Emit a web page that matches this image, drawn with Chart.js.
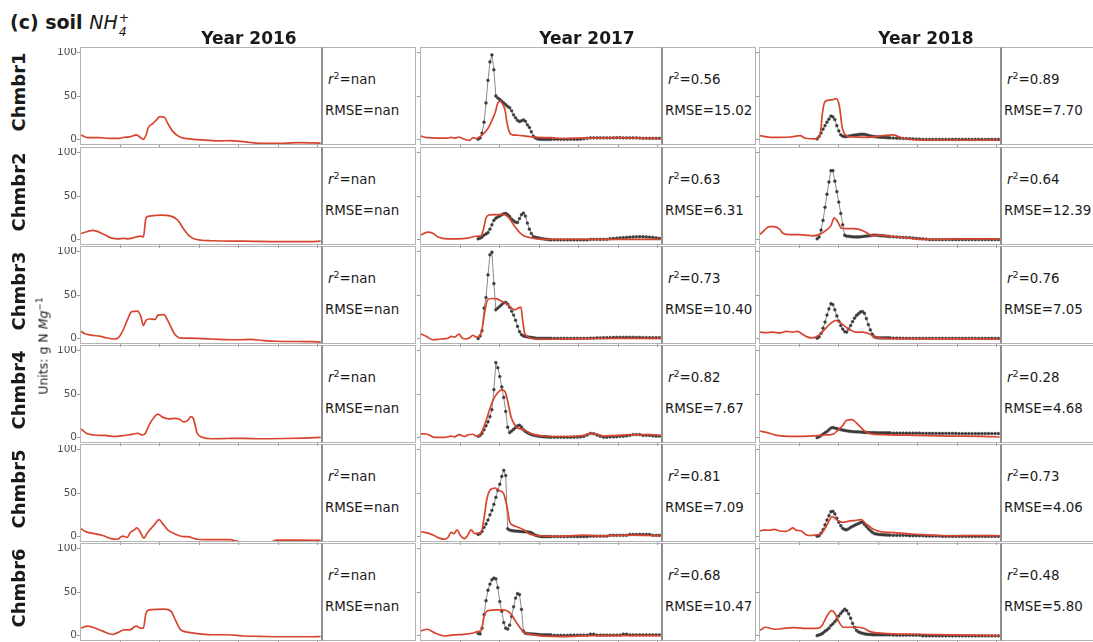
<!DOCTYPE html>
<html>
<head>
<meta charset="utf-8">
<script src="https://cdn.jsdelivr.net/npm/chart.js@4.4.0/dist/chart.umd.min.js"></script>
<style>
body{margin:0;background:#fff;width:1093px;height:642px;overflow:hidden;position:relative;font-family:"DejaVu Sans",sans-serif;color:#1a1a1a}
.abs{position:absolute;white-space:nowrap}
.rot{position:absolute;white-space:nowrap;transform:translate(-50%,-50%) rotate(-90deg)}
.frame{position:absolute;box-sizing:border-box;border:1px solid #b4b4b4;pointer-events:none}
.txt{position:absolute;box-sizing:border-box;border:1px solid #b4b4b4;border-left:2px solid #8e8e8e;background:#fff}
.stat{position:absolute;font-size:13.4px;line-height:16px;white-space:nowrap}
.stat sup{font-size:9.5px;vertical-align:5px;line-height:0}
.ss{position:relative;display:inline-block;width:12px;height:0;font-size:12.5px;font-style:italic;font-weight:normal}
</style>
</head>
<body>
<script>
// panel texts
const years = ["Year 2016", "Year 2017", "Year 2018"];
const chambers = ["Chmbr1", "Chmbr2", "Chmbr3", "Chmbr4", "Chmbr5", "Chmbr6"];
const r2Labels = [
  ["nan", "nan", "nan", "nan", "nan", "nan"],
  ["0.56", "0.63", "0.73", "0.82", "0.81", "0.68"],
  ["0.89", "0.64", "0.76", "0.28", "0.73", "0.48"]
];
const rmseLabels = [
  ["nan", "nan", "nan", "nan", "nan", "nan"],
  ["15.02", "6.31", "10.40", "7.67", "7.09", "10.47"],
  ["7.70", "12.39", "7.05", "4.68", "4.06", "5.80"]
];
const yTicks = [0, 50, 100];
const xTicks = [60, 120, 180, 240, 300, 360];

// simulated NH4+ (day of year, value)
const sim2016 = [
  [[0,5.4],[10,2.3],[28,2.3],[43,1.5],[58,1.5],[66,2.7],[76,3.4],[84,5.4],[89,3.4],[95,0.4],[100,7.3],[102,13],[110,18.8],[115,22.6],[120,26.4],[127,25.7],[132,18.8],[140,9.2],[150,3.4],[171,0.4],[190,-0.5],[211,-1.5],[226,-1.1],[250,-2.5],[272,-4.2],[308,-4.2],[333,-3.4],[365,-4]],
  [[0,7],[18,10.5],[36,5.5],[46,2],[56,0.8],[66,1.5],[71,0.8],[84,3],[91,4],[95,3],[99,25],[104,27],[122,28],[137,27],[147,22.5],[157,11.5],[165,4.3],[172,1],[198,-1.3],[248,-1.7],[299,-2.2],[349,-2.2],[365,-1.8]],
  [[0,8.5],[5,6],[15,4],[30,2.6],[38,1],[50,-0.4],[56,0.5],[63,8],[71,22],[77,31],[86,31.5],[91,25.7],[95,15],[99,21],[104,22.5],[113,22],[117,27],[126,27.5],[132,21],[142,6],[152,0.5],[162,0.5],[198,-0.4],[238,-1.3],[258,-0.8],[278,-2.2],[298,-3],[349,-3.5],[365,-4]],
  [[0,10],[8,5],[20,3],[36,2.5],[51,1.3],[61,2],[71,3],[79,4],[86,5],[94,3],[98,5],[104,15],[112,24],[117,27],[124,23.5],[134,21.5],[142,22],[150,21],[157,18],[163,20],[167,24],[171,22],[177,5],[185,0.4],[198,-1.3],[223,-1],[248,-0.8],[273,-1.3],[309,-1],[339,-0.5],[365,0.3]],
  [[0,9],[8,5.5],[20,3.5],[33,1.3],[46,-2.2],[56,-3],[61,0],[64,0.5],[70,-1],[75,4.8],[81,7.8],[85,10],[89,7],[94,-0.4],[96,-1.7],[101,4.3],[111,13],[119,19.6],[124,15.2],[132,7.8],[142,3.5],[157,0],[162,0],[177,-3],[198,-3.5],[228,-3.5],[233,-4.5],[245,-6],[290,-6],[298,-4],[330,-4],[365,-4.2]],
  [[0,8.7],[10,11],[20,9],[33,5.2],[48,1.3],[56,3.5],[66,6.5],[74,6.5],[84,11],[91,8.5],[95,8.5],[99,26],[104,29.6],[127,30.4],[137,28],[144,17.4],[152,6.5],[162,4],[177,2.2],[198,1],[223,1],[248,-0.4],[273,-0.8],[299,-1.3],[349,-1.3],[365,-1]]
];
const sim2017 = [
  [[0,4],[10,2.2],[26,1.7],[41,1.7],[46,2.6],[51,1.7],[58,3],[63,1.3],[69,-0.4],[74,-0.8],[79,2.2],[84,1.3],[89,3],[94,6],[98,9],[103,14],[108,22],[113,31],[117,42],[121,44],[124,41],[128,34],[131,19],[135,8],[139,5.5],[147,5],[162,3.7],[177,2.6],[198,2.2],[213,1.3],[238,1.7],[273,1.7],[299,2.2],[324,1.7],[365,1.3]],
  [[0,5.4],[10,8.7],[18,7.4],[26,3],[41,0.9],[56,0.9],[71,1.7],[84,3.9],[91,4.3],[95,11.7],[99,24.8],[104,28.3],[112,28.7],[127,28.7],[134,24.8],[142,16],[150,8.3],[157,4.3],[167,2.2],[177,0.9],[198,0.4],[365,0.4]],
  [[0,5.2],[8,2.6],[18,-1.3],[31,-0.4],[41,0.4],[46,2.6],[51,1.7],[58,5.2],[63,0.4],[69,-0.4],[74,1],[79,3.9],[84,1.7],[89,3],[93,11],[97,30],[101,44],[108,46],[116,45.5],[122,43],[130,40],[138,35],[143,33],[148,35],[152,36],[155,20],[158,6],[162,2.6],[167,0.4],[177,-0.4],[198,-0.4],[248,0],[299,0.4],[365,0.4]],
  [[0,4.3],[10,3.9],[20,0.4],[36,0.4],[46,1.7],[51,0.8],[58,3.5],[66,1.3],[71,3],[79,3.9],[84,1.7],[89,3],[94,9],[101,24],[109,41.7],[117,51.7],[123,54.8],[128,52.6],[132,41.7],[137,24.3],[142,15.6],[147,11.3],[157,9],[167,4.8],[177,2.6],[198,1.3],[223,1.3],[248,2.6],[258,4.8],[268,3.9],[278,1.7],[299,2.6],[324,3.5],[349,3.5],[365,2.6]],
  [[0,5.6],[10,4.3],[20,1.3],[28,-1.7],[36,-3],[41,-1],[46,4.8],[50,3.5],[55,7.8],[60,1.3],[66,-2.2],[71,1.3],[76,7.8],[82,3.5],[86,4],[91,4],[96,21],[100,42],[106,54],[113,55.5],[119,53],[126,49],[131,34],[135,17],[140,13],[147,11],[157,7.5],[165,3],[175,1.3],[198,0.4],[223,0.8],[248,1.7],[273,0.8],[299,1.3],[324,1.7],[349,1.3],[365,0.8]],
  [[0,5.5],[9,7.3],[22,2.7],[35,-0.4],[50,0.8],[65,1.5],[78,2.7],[86,4.6],[92,6.5],[96,22],[102,28.7],[115,29.5],[126,29.5],[136,25.7],[146,14.2],[156,4.6],[172,0.8],[212,-1.1],[263,0],[314,0],[365,0]]
];
const sim2018 = [
  [[0,4.6],[8,3.5],[15,2.7],[30,2.7],[46,3],[61,4.6],[69,1.6],[84,0.8],[89,3],[92,7.3],[95,30],[99,43.7],[109,45.6],[116,47],[121,38],[125,15],[130,5.4],[137,3.4],[163,2.7],[188,4.6],[203,5.4],[218,1.6],[249,-0.4],[300,-0.4],[365,-0.4]],
  [[0,6],[7,11],[14,15],[22,14.8],[30,11.7],[35,7.4],[45,5.7],[60,5.7],[70,5.2],[80,4.3],[90,5.7],[100,10.4],[108,16],[113,25],[118,21],[124,13],[131,12.6],[141,12.6],[151,11.7],[162,8.3],[169,5.2],[182,4.8],[197,3.9],[222,2.2],[248,0.4],[273,0.4],[299,0.9],[349,0.9],[365,0.4]],
  [[0,7.4],[9,7],[19,7.4],[30,6.5],[40,8.3],[50,7.4],[57,8.3],[63,6],[70,2.6],[78,0.9],[85,1.7],[93,6],[101,12.6],[108,17.8],[116,21],[126,16],[136,10.4],[146,7.4],[156,7.4],[167,5.2],[174,1.7],[187,0.4],[207,0],[365,-0.4]],
  [[0,7.6],[8,6.4],[26,2.6],[46,1.5],[66,1.5],[87,2.3],[100,3],[112,4.2],[118,8],[125,13],[132,19.9],[140,20.7],[148,16],[158,8.4],[168,4.6],[188,3.4],[239,2.6],[290,1.8],[340,1.5],[365,0.7]],
  [[0,6.5],[7,7.8],[14,7.3],[22,8.3],[30,6.5],[40,6],[45,7.8],[50,10],[55,7.5],[63,6.5],[70,2.2],[78,1.3],[85,2],[93,3.5],[101,12],[110,23],[118,18.7],[126,16.5],[136,17.8],[146,18.7],[154,19.6],[162,14.3],[172,8.7],[184,5.6],[197,4.8],[223,3.5],[248,2.2],[273,1.3],[299,1],[324,1.3],[365,1]],
  [[0,5.8],[8,9.6],[23,7.3],[36,8.4],[51,9.2],[66,8.4],[87,8.4],[94,11],[102,22.6],[109,28.7],[114,25.7],[120,16],[127,9.6],[148,9.6],[158,8.4],[168,4.6],[188,2.7],[239,1.6],[290,0.8],[365,0]]
];

// observed NH4+ sampling days (2017 and 2018)
const obsDays = [87,90,93,96,99,102,105,108,111,114,117,120,123,126,129,132,135,138,141,144,147,150,153,156,159,162,165,168,171,174,177,180,183,186,189,192,195,198,
  203,208,213,218,223,228,233,238,243,248,253,258,263,268,273,278,283,288,293,298,303,308,313,318,323,328,333,338,343,348,353,358,363];
const obs2017 = [
  [0.5,2,7.4,20,42,68,89,97,80,50,47.6,46,44,42,40,38,36.5,33,28.4,25,22,20.7,21.5,22.6,21,17,14,9,4,2,1,0.5,0.3,0.3,0.3,0.3,0.3,0.3,
   0.3,0.3,0.3,0.3,0.3,0.3,0.3,0.3,0.5,1,1.5,2,2,2,2,2,2,2,2,2.2,2.2,2,2,2,2,2,1.8,1.5,1.5,1.5,1.5,1.5,1.5],
  [0.9,1.7,3,5.2,6.5,8,12,17,22,24.5,26,27,28.5,29.5,30,28.5,26.5,23.5,21.5,20,19.6,24,28.5,30.4,27,19,12,7,3.5,2.6,2.2,1.7,1.2,0.9,0.5,0.3,0,-0.3,
   -0.3,-0.3,-0.3,-0.3,-0.3,-0.3,-0.3,-0.3,-0.3,-0.3,-0.3,0.3,0.3,0.3,0.3,0.3,0.3,1,1.3,1.6,2,2.3,2.5,2.8,3,3.2,3.3,3.3,3,2.8,2.5,2,1.5],
  [0,3,9,35,47,73,96,99,63,33,35,37,39,41,41.5,39.5,36,31.5,27,21,14,8,4.5,3,2.4,2,1.6,1.3,1,0.5,0.3,0.3,0.3,0.3,0.3,0.3,0.3,0.3,
   0.3,0.3,0.3,0.3,0.3,0.3,0.3,0.3,0.3,0.3,0.3,0.5,0.5,0.8,0.8,1,1,1.2,1.3,1.5,1.5,1.5,1.5,1.5,1.5,1.3,1.3,1.2,1.2,1,1,1,1],
  [1.5,2.5,4.8,9,13.5,18,24,32,55,86,80,70,58,46,30,12,5.7,7.5,9.5,11.5,13.5,14.3,12,9,7,5.6,4.5,3.5,2.8,2.4,2,1.5,1.3,1,1,0.8,0.6,0.5,
   0.4,0.4,0.4,0.4,0.4,0.4,0.4,0.6,0.8,1.3,3,4.8,4.5,3,1.5,0.5,0.5,0.8,0.8,1,1.5,1.5,2,2.5,3.5,3.5,3.5,2.5,2.5,2.5,2,1.7,1.7],
  [2.5,3.5,6,10.5,14.5,19,25,30,37,45,53,60,69,76,70,9,7.5,7,6.5,6.3,6.3,6,5.8,5.5,5.5,5.5,5,4.5,3,1.7,1,0.5,0,0,0,0,0,0,
   0,0,0,0,0,0,0,0,0,0,0,0.5,0.5,0.5,0.5,0.5,0.5,1.5,1.5,1.5,1.5,1.5,1.5,2.5,2.5,2.5,2.5,2.5,2.5,2.5,1.5,1.5,1.5],
  [2.5,2,8.5,24,40,52,59,64,66,65,55,39,28,15,8.5,7.5,12,22,33,43,48,47,30,5,2.7,2.4,2,2,1.8,1.6,1.5,1.2,0.8,0.8,0.8,0.8,0.8,0.8,
   0.3,0.3,0.3,0.3,0.3,0.5,0.5,0.5,0.5,0.5,0.5,1.6,1.6,0.5,0.5,0.5,0.5,0.5,0.5,0.5,0.5,1.6,1.6,0.8,0.8,0.8,0.8,0.8,0.8,0.8,0.8,0.8,0.8]
];
const obs2018 = [
  [0.8,3.5,7.5,12,16,20,23.5,27,26,23,16,10,5.4,4,3.4,3.6,4,4.4,4.8,5.2,5.4,5.8,6,6.2,6,5.5,4.8,4.2,3.8,3.5,3.2,3,2.8,2.7,2.6,2.4,2.2,2,
   1.8,1.7,1.6,1.4,1.2,1,0.8,0.6,0.5,0.2,0.2,0.2,0.2,0.2,0.2,0.2,0.2,0.2,0.2,0.2,0.2,0.2,0.2,0.2,0.2,0.2,0.2,0.2,0.2,0.2,0.2,0.2,0.2],
  [0.9,3,11,22,37,52,66,79,79,67,55,43,30,17,5,4,3.8,3.5,3.2,3,3,3,3.2,3.5,3.8,4.1,4.3,4.6,5,5.2,5,4.8,4.5,4.3,4.2,4,3.8,3.5,
   3.2,3,2.7,2.5,2.3,2.2,1.8,1.5,1.2,0.9,0.5,0,0,0,0,0,0,0,0,0,0,0,0,0,0,0,0,0,0,0,0,0,0],
  [0.5,2,6,12,19,27,34,40,39,33,26,20,15,11,8,7.5,11,15,19.5,23.5,26.5,28.5,30.5,31,29,23,16,10,5,2,1.2,0.9,0.8,0.8,0.8,0.8,0.8,0.8,
   0.6,0.5,0.5,0.4,0.4,0.3,0.3,0.3,0.3,0.3,0.3,0.3,0.3,0.3,0.3,0.3,0.3,0.3,0.3,0.3,0.3,0.3,0.3,0.3,0.3,0.3,0.3,0.3,0.3,0.3,0.3,0.3,0.3],
  [0,1,2.4,4,5.5,7,9,11,11.5,11,10.3,9.8,9.2,8.6,8.2,7.8,7.4,7.1,6.9,6.7,6.6,6.5,6.4,6.2,6,5.9,5.8,5.7,5.6,5.6,5.5,5.5,5.4,5.4,5.4,5.4,5.4,5.4,
   5.1,5.1,5.1,5.1,5.1,5.1,5.1,5.1,5.1,4.8,4.8,4.8,4.8,4.8,4.8,4.8,4.8,4.8,4.8,4.8,4.6,4.6,4.6,4.6,4.6,4.6,4.6,4.6,4.6,4.6,4.6,4.6,4.6],
  [0.4,1,4,8,13.5,19,24,28.5,29,26,21,16.5,12.5,9.5,8.2,7.8,9,10.6,11.8,13,14,15,16.2,16.5,14,11.5,9,7,5,3.5,3,2.6,2.4,2.2,2,1.9,1.8,1.7,
   1.4,1.4,1.4,1.4,1.4,1,1,1,1,1,0.6,0.6,0.6,0.6,0.6,0.2,0.2,0.2,0.2,0.2,0.2,0.2,0.2,0.2,0.2,0.2,0.2,0.2,0.2,0.2,0.2,0.2,0.2],
  [0,0.8,1.6,3,5,6.5,8.5,11.5,13.5,16,18.5,22.5,25.5,28,30.3,28.5,25,20,14,9.5,6,4.2,3.3,2.7,2,1.6,1.4,1.3,1,1,1,1,1,1,1,1,1,1,
   0.5,0.5,0.5,0.5,0.5,0.5,0.5,0.5,0.5,-0.3,-0.3,-0.3,-0.3,-0.3,-0.3,-0.3,-0.3,-0.3,-0.3,-0.3,-0.3,-0.3,-0.3,-0.3,-0.3,-0.3,-0.3,-0.3,-0.3,-0.3,-0.3,-0.3,-0.3]
];

const sims = [sim2016, sim2017, sim2018];
const obs = [null, obs2017, obs2018];

// layout
const colX = [81, 421, 760];
const plotW = 241, plotH = 96, textW = 95;
const rowTop = [48, 148, 247, 346, 445, 544];
const L = 40, B = 6;
const red = "#d8452f";

Chart.defaults.font.family = "'DejaVu Sans', sans-serif";

function add(html, cls, style) {
  const d = document.createElement("div");
  d.className = cls;
  d.style.cssText = style;
  d.innerHTML = html;
  document.body.appendChild(d);
  return d;
}

function noPad(s) {
  s.paddingTop = 0; s.paddingBottom = 0; s.paddingLeft = 0; s.paddingRight = 0;
}

for (let c = 0; c < 3; c++) {
  for (let r = 0; r < 6; r++) {
    const cv = document.createElement("canvas");
    cv.width = plotW + L;
    cv.height = plotH + B;
    cv.style.cssText = `position:absolute;left:${colX[c] - L}px;top:${rowTop[r]}px`;
    document.body.appendChild(cv);

    const ds = [{
      data: sims[c][r].map(p => ({x: p[0], y: p[1]})),
      borderColor: red, borderWidth: 1.7, pointRadius: 0,
      cubicInterpolationMode: "monotone"
    }];
    if (obs[c]) {
      ds.push({
        data: obsDays.map((d, i) => ({x: d, y: obs[c][r][i]})),
        borderColor: "#8a8a8a", borderWidth: 1,
        pointRadius: 1.4, pointBackgroundColor: "#3a3a3a",
        pointBorderColor: "#3a3a3a", pointBorderWidth: 0.5
      });
    }

    new Chart(cv, {
      type: "line",
      data: {datasets: ds},
      options: {
        animation: false, responsive: false, events: [],
        layout: {padding: 0, autoPadding: false},
        plugins: {legend: {display: false}, tooltip: {enabled: false}},
        scales: {
          x: {
            type: "linear", min: 0, max: 367,
            afterBuildTicks: s => { s.ticks = xTicks.map(v => ({value: v})); },
            afterFit: s => { s.height = B; noPad(s); },
            ticks: {display: false},
            grid: {drawOnChartArea: false, tickLength: 4, color: "#9a9a9a"},
            border: {display: false}
          },
          y: {
            min: -5, max: 105,
            afterBuildTicks: s => { s.ticks = yTicks.map(v => ({value: v})); },
            afterFit: s => { s.width = L; noPad(s); },
            ticks: {display: c === 0, padding: 0, color: "#505050", font: {size: 10.5}},
            grid: {drawOnChartArea: false, tickLength: 4, color: "#9a9a9a"},
            border: {display: false}
          }
        }
      }
    });

    // frames
    add("", "frame", `left:${colX[c] - 1}px;top:${rowTop[r] - 1}px;width:${plotW + 2}px;height:${plotH + 2}px`);
    const tx = colX[c] + plotW - 1;
    add("", "txt", `left:${tx}px;top:${rowTop[r] - 1}px;width:${textW}px;height:${plotH + 2}px`);
    add(`<i>r</i><sup>2</sup>=${r2Labels[c][r]}`, "stat", `left:${tx + 7}px;top:${rowTop[r] + 24}px`);
    add(`RMSE=${rmseLabels[c][r]}`, "stat", `left:${tx + 4}px;top:${rowTop[r] + 55}px`);
  }
}

// titles
add(`(c) soil <i style="font-weight:normal">NH</i><span class="ss"><span style="position:absolute;left:1px;top:-22px">+</span><span style="position:absolute;left:1px;top:-8px">4</span></span>`,
  "abs", "left:10px;top:11px;font-weight:bold;font-size:19px;line-height:22px");
const yearCenter = [249, 587, 926];
years.forEach((y, i) => add(y, "abs", `left:${yearCenter[i]}px;top:27px;transform:translateX(-50%);font-weight:bold;font-size:17px;line-height:22px`));
chambers.forEach((ch, r) => add(ch, "rot", `left:18px;top:${rowTop[r] + 44}px;font-weight:bold;font-size:18px`));
add(`Units: g N <i>Mg</i><sup style="font-size:9px;vertical-align:5px;line-height:0">\u22121</sup>`, "rot", "left:43px;top:346px;font-size:12.5px");
</script>
</body>
</html>
